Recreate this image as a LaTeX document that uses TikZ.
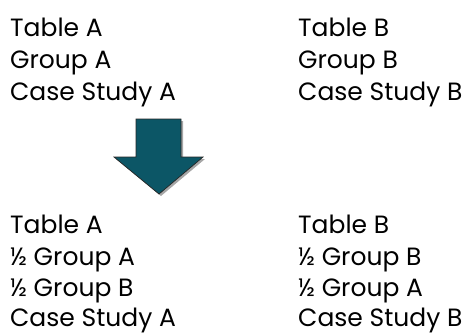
\documentclass[tikz,border=0pt]{standalone}
\usepackage{fontspec}
\setmainfont{Poppins}
\definecolor{arrowteal}{RGB}{12,86,102}

\begin{document}
\begin{tikzpicture}[x=1pt, y=-1pt,
    txt/.style={anchor=base west, inner sep=0pt, font=\fontsize{25}{30}\selectfont}]
    \useasboundingbox (0,0) rectangle (469,335);
    % before
    \node[txt] (beforeA1) at (10,36) {Table A};
    \node[txt] (beforeA2) at (10,68) {Group A};
    \node[txt] (beforeA3) at (10,100) {Case Study A};
    \node[txt] (beforeB1) at (298,36) {Table B};
    \node[txt] (beforeB2) at (298,68) {Group B};
    \node[txt] (beforeB3) at (298,100) {Case Study B};
    % arrow
    \fill[black, opacity=0.35, shift={(2,2)}]
    (136,119) -- (181,119) -- (181,157) -- (203,157) -- (159,194)
    -- (114,157) -- (136,157) -- cycle;
    \draw[fill=arrowteal, draw=black!85, line width=0.7pt]
    (136,119) -- (181,119) -- (181,157) -- (203,157) -- (159,194)
    -- (114,157) -- (136,157) -- cycle;
    % after
    \node[txt] (afterA1) at (10,233) {Table A};
    \node[txt] (afterA2) at (10,265) {½ Group A};
    \node[txt] (afterA3) at (10,296) {½ Group B};
    \node[txt] (afterA4) at (10,326) {Case Study A};
    \node[txt] (afterB1) at (298,233) {Table B};
    \node[txt] (afterB2) at (298,265) {½ Group B};
    \node[txt] (afterB3) at (298,296) {½ Group A};
    \node[txt] (afterB4) at (298,326) {Case Study B};
\end{tikzpicture}
\end{document}
